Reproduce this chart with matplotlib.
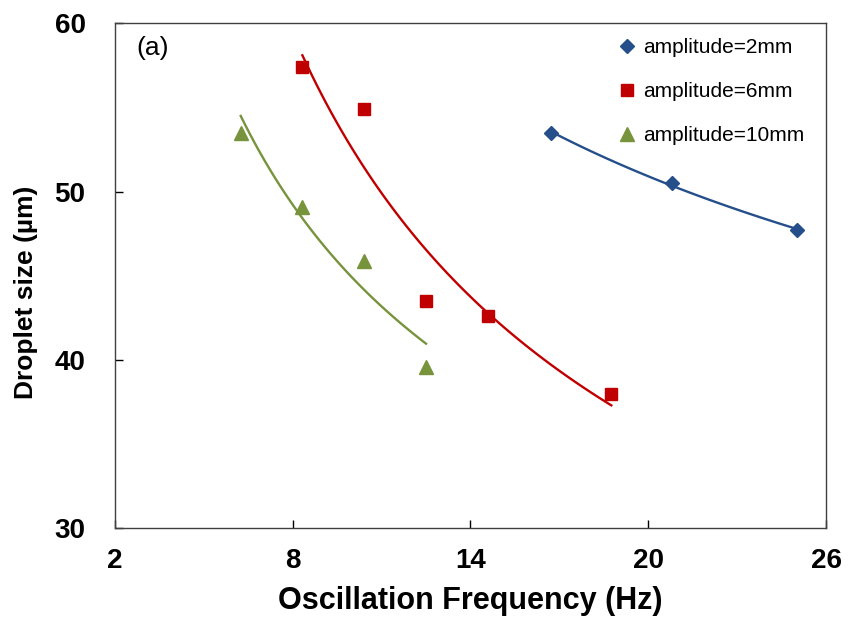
import numpy as np
import matplotlib
matplotlib.use("Agg")
import matplotlib.pyplot as plt

plt.rcParams['font.family'] = ['Liberation Sans', 'DejaVu Sans']

# droplet size vs oscillation frequency, three amplitudes
freq_2mm = [16.7, 20.8, 25.0]
size_2mm = [53.5, 50.5, 47.7]

freq_6mm = [8.33, 10.4, 12.5, 14.6, 18.75]
size_6mm = [57.4, 54.9, 43.5, 42.6, 38.0]

freq_10mm = [6.25, 8.33, 10.4, 12.5]
size_10mm = [53.5, 49.1, 45.9, 39.6]

def power_trend(x, y):
	# excel style power trendline y = a * x^b
	b, lna = np.polyfit(np.log(x), np.log(y), 1)
	xs = np.linspace(min(x), max(x), 100)
	return xs, np.exp(lna) * xs ** b

fig = plt.figure(figsize=(8.5, 6.28), dpi=100)
ax = fig.add_axes([0.135, 0.159, 0.837, 0.804])

series = [
	(freq_2mm, size_2mm, '#254F8B', 'D', 'amplitude=2mm', 7.5),
	(freq_6mm, size_6mm, '#C00000', 's', 'amplitude=6mm', 8.5),
	(freq_10mm, size_10mm, '#77933C', '^', 'amplitude=10mm', 10),
]
for x, y, c, m, lab, ms in series:
	xs, ys = power_trend(x, y)
	ax.plot(xs, ys, color=c, linewidth=1.7)
	ax.plot(x, y, linestyle='none', marker=m, color=c, markersize=ms, label=lab)

ax.set_xlim(2, 26)
ax.set_ylim(30, 60)
ax.set_xticks([2, 8, 14, 20, 26])
ax.set_yticks([30, 40, 50, 60])
ax.tick_params(direction='in', length=6, width=1, labelsize=20)
ax.tick_params(axis='x', pad=14)
ax.tick_params(axis='y', pad=21)
for lbl in ax.get_xticklabels() + ax.get_yticklabels():
	lbl.set_fontweight('bold')
for s in ax.spines.values():
	s.set_color('#404040')
	s.set_linewidth(1)

ax.set_xlabel('Oscillation Frequency (Hz)', fontsize=22, fontweight='bold', labelpad=9)
ax.set_ylabel('Droplet size (µm)', fontsize=19, fontweight='bold')
ax.yaxis.set_label_coords(-0.108, 0.467)

ax.text(0.03, 0.975, '(a)', transform=ax.transAxes, fontsize=19, va='top', ha='left')

ax.legend(loc='upper right', bbox_to_anchor=(0.99, 1.0), frameon=False, fontsize=15,
	handletextpad=0.2, handlelength=1.2, labelspacing=1.2, borderaxespad=0.3)

fig.savefig('out.png', dpi=100)
